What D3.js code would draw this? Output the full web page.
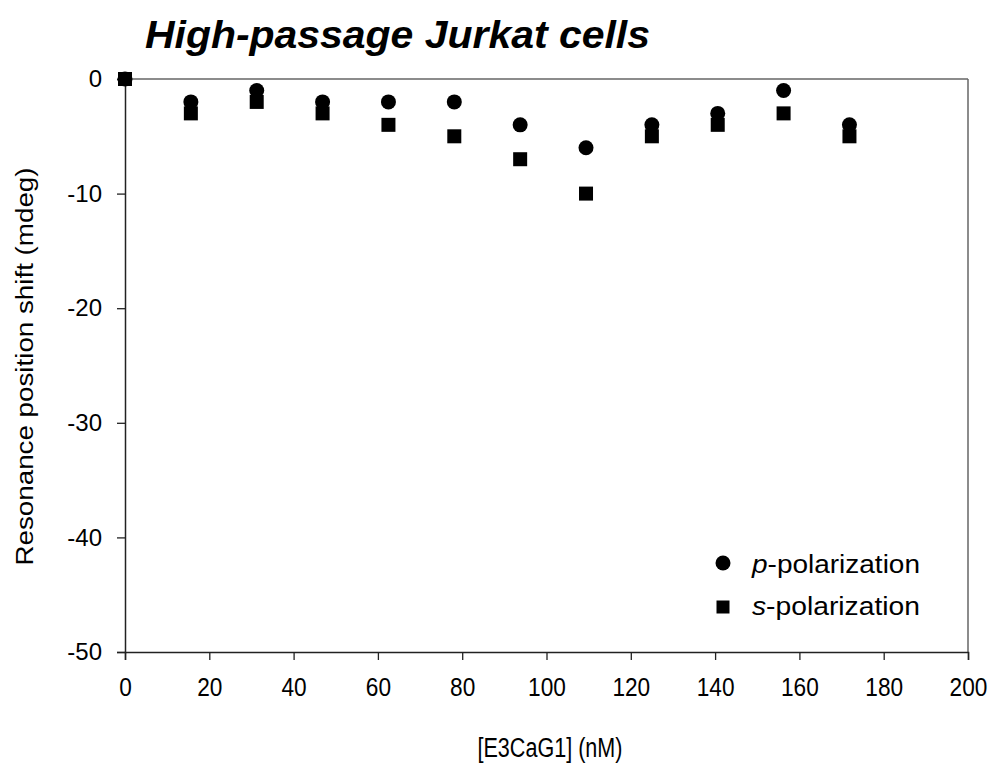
<!DOCTYPE html>
<html lang="en">
<head>
<script src="https://d3js.org/d3.v7.min.js"></script>
<style>
body { margin: 0; background: #fff; }
svg text { font-family: "Liberation Sans", Arial, sans-serif; fill: #000; }
</style>
</head>
<body>
<div id="chart"></div>
<script>
// concentrations (nM)
var conc = [0, 15.625, 31.25, 46.875, 62.5, 78.125, 93.75, 109.375, 125, 140.625, 156.25, 171.875];
// resonance shift (mdeg)
var pPol = [0, -2, -1, -2, -2, -2, -4, -6, -4, -3, -1, -4];
var sPol = [0, -3, -2, -3, -4, -5, -7, -10, -5, -4, -3, -5];
var xTicks = [0, 20, 40, 60, 80, 100, 120, 140, 160, 180, 200];
var yTicks = [0, -10, -20, -30, -40, -50];

var W = 993, H = 766;
var margin = { top: 79, right: 25, bottom: 114, left: 125 },
    width = W - margin.left - margin.right,
    height = H - margin.top - margin.bottom;

var svg = d3.select("#chart")
    .append("svg")
    .attr("width", W)
    .attr("height", H);

var g = svg.append("g")
    .attr("transform", "translate(" + margin.left + "," + margin.top + ")");

var x = d3.scaleLinear().domain([0, 200]).range([0, width]);
var y = d3.scaleLinear().domain([-50, 0]).range([height, 0]);

// frame (top + right in grey)
g.append("line").attr("x1", 0).attr("x2", width).attr("y1", 0).attr("y2", 0)
    .attr("stroke", "#666").attr("stroke-width", 1.5);
g.append("line").attr("x1", width).attr("x2", width).attr("y1", 0).attr("y2", height)
    .attr("stroke", "#666").attr("stroke-width", 1.5);

// x axis - labels a bit condensed like the original
var xAxis = g.append("g")
    .attr("transform", "translate(0," + height + ")")
    .call(d3.axisBottom(x).tickValues(xTicks).tickSize(8).tickPadding(18).tickFormat(d3.format("d")));
xAxis.selectAll("text")
    .style("font-size", "25px")
    .attr("textLength", function(d) { return String(d).length * 12.6; })
    .attr("lengthAdjust", "spacingAndGlyphs");

// y axis
var yAxis = g.append("g")
    .call(d3.axisLeft(y).tickValues(yTicks).tickSize(8).tickPadding(15).tickFormat(function(d) { return d === 0 ? "0" : "-" + Math.abs(d); }));
yAxis.selectAll("text").style("font-size", "24px");

svg.selectAll(".domain").attr("stroke", "#222").attr("stroke-width", 1.5);
svg.selectAll(".tick line").attr("stroke", "#222").attr("stroke-width", 1.3);

// s-polarization squares
var sq = 14;
g.selectAll(".spt")
    .data(conc)
    .enter().append("rect")
    .attr("class", "spt")
    .attr("x", function(d) { return x(d) - sq / 2; })
    .attr("y", function(d, i) { return y(sPol[i]) - sq / 2; })
    .attr("width", sq)
    .attr("height", sq)
    .attr("fill", "#000");

// p-polarization circles
g.selectAll(".ppt")
    .data(conc)
    .enter().append("circle")
    .attr("class", "ppt")
    .attr("cx", function(d) { return x(d); })
    .attr("cy", function(d, i) { return y(pPol[i]); })
    .attr("r", 7.5)
    .attr("fill", "#000");

// title
svg.append("text")
    .attr("x", 145)
    .attr("y", 48)
    .attr("textLength", 505)
    .attr("lengthAdjust", "spacingAndGlyphs")
    .style("font-size", "39px")
    .style("font-weight", "bold")
    .style("font-style", "italic")
    .text("High-passage Jurkat cells");

// axis titles
svg.append("text")
    .attr("x", 550)
    .attr("y", 757)
    .attr("text-anchor", "middle")
    .attr("textLength", 145)
    .attr("lengthAdjust", "spacingAndGlyphs")
    .style("font-size", "27px")
    .text("[E3CaG1] (nM)");

svg.append("text")
    .attr("transform", "translate(33," + (margin.top + height / 2 + 1) + ")rotate(-90)")
    .attr("text-anchor", "middle")
    .attr("textLength", 398)
    .attr("lengthAdjust", "spacingAndGlyphs")
    .style("font-size", "23px")
    .text("Resonance position shift (mdeg)");

// legend
var legend = svg.append("g").attr("transform", "translate(723,563)");
legend.append("circle").attr("cx", 0).attr("cy", 0).attr("r", 7.5).attr("fill", "#000");
legend.append("rect").attr("x", -6.5).attr("y", 37.5).attr("width", 13).attr("height", 13).attr("fill", "#000");

var t1 = legend.append("text").attr("x", 29).attr("y", 10)
    .attr("textLength", 168).attr("lengthAdjust", "spacingAndGlyphs")
    .style("font-size", "25px");
t1.append("tspan").style("font-style", "italic").text("p");
t1.append("tspan").text("-polarization");
var t2 = legend.append("text").attr("x", 29).attr("y", 52)
    .attr("textLength", 168).attr("lengthAdjust", "spacingAndGlyphs")
    .style("font-size", "25px");
t2.append("tspan").style("font-style", "italic").text("s");
t2.append("tspan").text("-polarization");
</script>
</body>
</html>
